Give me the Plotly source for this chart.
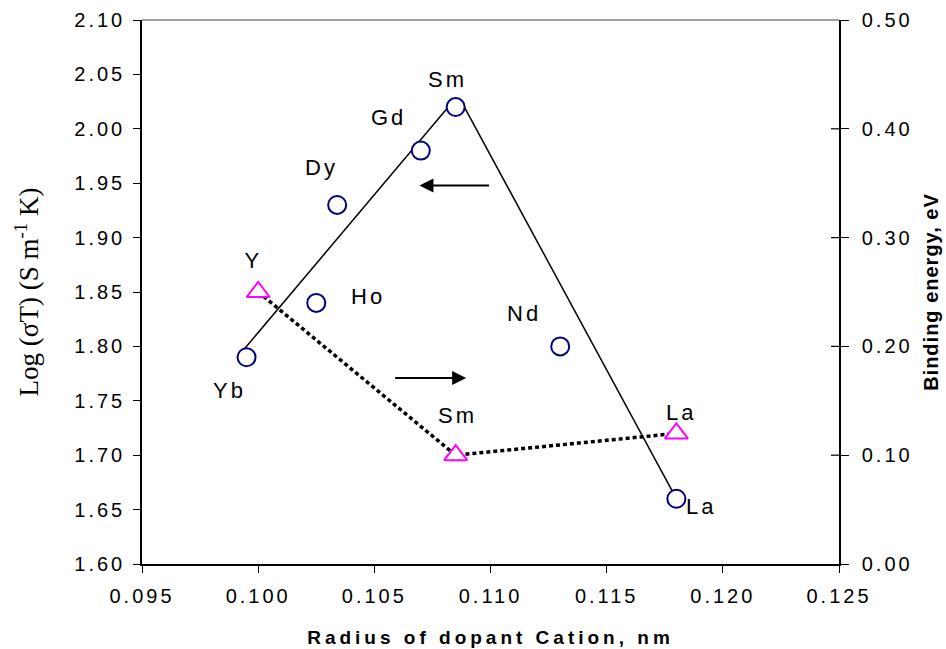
import json
import plotly.graph_objects as go

# Conductivity of doped samples (left axis)
cation_labels = ["Yb", "Ho", "Dy", "Gd", "Sm", "Nd", "La"]
cation_radius = [0.0995, 0.1025, 0.1034, 0.1070, 0.1085, 0.1130, 0.1180]
log_sigma_t = [1.79, 1.84, 1.93, 1.98, 2.02, 1.80, 1.66]

# Binding energy (right axis)
be_labels = ["Y", "Sm", "La"]
be_radius = [0.1000, 0.1085, 0.1180]
binding_energy = [0.25, 0.10, 0.12]

# Guide line drawn through the conductivity maximum
trend_radius = [0.0993, 0.1083, None, 0.1088, 0.1180]
trend_log_sigma_t = [1.795, 2.023, None, 2.023, 1.660]

x_ticks = [0.095, 0.100, 0.105, 0.110, 0.115, 0.120, 0.125]
y_ticks = [1.60, 1.65, 1.70, 1.75, 1.80, 1.85, 1.90, 1.95, 2.00, 2.05, 2.10]
y2_ticks = [0.00, 0.10, 0.20, 0.30, 0.40, 0.50]

# Arrows pointing each series to its axis: (tail x, tip x, y on left axis)
arrow_left = (0.1100, 0.10694, 1.948)
arrow_right = (0.10583, 0.10895, 1.771)

# Pixel offsets of point labels from their markers (right, up)
cation_label_shift = {
    "Yb": (-17, -33), "Ho": (52, 6), "Dy": (-16, 37), "Gd": (-32, 33),
    "Sm": (-8, 28), "Nd": (-36, 33), "La": (25, -8),
}
be_label_shift = {"Y": (-5, 32), "Sm": (2, 40), "La": (5, 21)}

SANS = "Liberation Sans, Arial, sans-serif"
SERIF = "Liberation Serif, Times New Roman, serif"

fig = go.Figure()

fig.add_trace(go.Scatter(
    x=trend_radius, y=trend_log_sigma_t, mode="lines",
    line=dict(color="black", width=1.5), hoverinfo="skip", showlegend=False,
))
fig.add_trace(go.Scatter(
    x=be_radius, y=binding_energy, yaxis="y2", mode="lines+markers",
    line=dict(color="black", width=3.5, dash="4px,3px"),
    marker=dict(symbol="triangle-up", size=20, color="white",
                line=dict(color="#FF00FF", width=2)),
    showlegend=False,
))
fig.add_trace(go.Scatter(
    x=cation_radius, y=log_sigma_t, mode="markers",
    marker=dict(symbol="circle", size=18, color="white",
                line=dict(color="#000080", width=2)),
    showlegend=False,
))

annotations = []
for name, xr, yv in zip(cation_labels, cation_radius, log_sigma_t):
    dx, dy = cation_label_shift[name]
    annotations.append(dict(x=xr, y=yv, xref="x", yref="y", text=name,
                            showarrow=False, xshift=dx, yshift=dy,
                            font=dict(family=SANS, size=22, color="black")))
for name, xr, yv in zip(be_labels, be_radius, binding_energy):
    dx, dy = be_label_shift[name]
    annotations.append(dict(x=xr, y=yv, xref="x", yref="y2", text=name,
                            showarrow=False, xshift=dx, yshift=dy,
                            font=dict(family=SANS, size=22, color="black")))
for tail_x, tip_x, yv in (arrow_left, arrow_right):
    annotations.append(dict(x=tip_x, y=yv, ax=tail_x, ay=yv,
                            xref="x", yref="y", axref="x", ayref="y",
                            text="", showarrow=True, arrowhead=2,
                            arrowsize=1.4, arrowwidth=2, arrowcolor="black"))

# Plot-area top border and the inner half of the right-axis cross ticks
shapes = [dict(type="line", xref="paper", yref="paper", x0=0, x1=1, y0=1, y1=1,
               line=dict(color="#808080", width=1.5))]
for t in y2_ticks[1:-1]:
    shapes.append(dict(type="line", xref="x domain", yref="y2",
                       x0=1 - 8 / 697, x1=1, y0=t, y1=t,
                       line=dict(color="black", width=1.2)))

fig.update_layout(
    width=946, height=649,
    margin=dict(l=142, r=107, t=20, b=85, autoexpand=False),
    paper_bgcolor="white", plot_bgcolor="white",
    font=dict(family=SANS, color="black"),
    showlegend=False,
    annotations=annotations,
    shapes=shapes,
    xaxis=dict(
        range=[0.095, 0.125], tickvals=x_ticks, tickformat=".3f",
        automargin=False,
        showgrid=False, zeroline=False, showline=True, linecolor="black",
        linewidth=1.5, ticks="outside", ticklen=7, tickwidth=1.2,
        tickcolor="black", ticklabelstandoff=6,
        tickfont=dict(family=SANS, size=20, color="black"),
        title=dict(text="<b>Radius of dopant Cation, nm</b>", standoff=25,
                   font=dict(family=SANS, size=19, color="black")),
    ),
    yaxis=dict(
        range=[1.60, 2.10], tickvals=y_ticks, tickformat=".2f",
        automargin=False,
        showgrid=False, zeroline=False, showline=True, linecolor="black",
        linewidth=1.5, ticks="outside", ticklen=7, tickwidth=1.2,
        tickcolor="black", ticklabelstandoff=4,
        tickfont=dict(family=SANS, size=20, color="black"),
        title=dict(text="Log (σT) (S m<sup>-1</sup> K)", standoff=40,
                   font=dict(family=SERIF, size=27, color="black")),
    ),
    yaxis2=dict(
        range=[0.0, 0.5], tickvals=y2_ticks, tickformat=".2f",
        overlaying="y", side="right", automargin=False,
        showgrid=False, zeroline=False, showline=True, linecolor="black",
        linewidth=1.5, ticks="outside", ticklen=8, tickwidth=1.2,
        tickcolor="black", ticklabelstandoff=9,
        tickfont=dict(family=SANS, size=20, color="black"),
        title=dict(text="<b>Binding energy, eV</b>", standoff=24,
                   font=dict(family=SANS, size=20, color="black")),
    ),
)

# Wide letter spacing for the sans-serif texts
css = (".xtick text, .ytick text, .y2tick text {letter-spacing: 3px;} "
       ".annotation-text {letter-spacing: 3px;} "
       ".xtitle {letter-spacing: 4px;} .y2title {letter-spacing: 1px;}")
post = ("var s=document.createElement('style');s.textContent="
        + json.dumps(css) + ";document.head.appendChild(s);")

fig.write_html("out.html", post_script=post)
